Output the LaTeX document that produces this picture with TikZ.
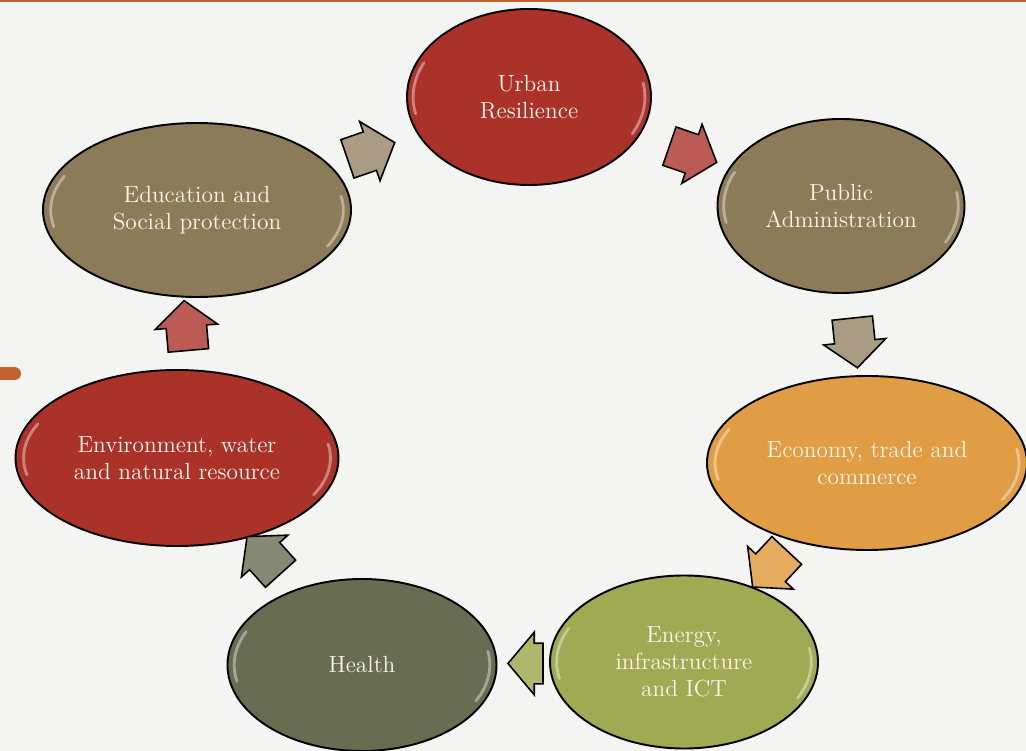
\documentclass[tikz,border=0pt]{standalone}
\usetikzlibrary{shapes.geometric, shapes.arrows, calc}

\definecolor{paper}{RGB}{244,244,243}
\definecolor{rust}{RGB}{196,98,45}
\definecolor{cream}{RGB}{250,246,236}
\definecolor{ruby}{RGB}{170,50,40}
\definecolor{umber}{RGB}{140,123,88}
\definecolor{amber}{RGB}{224,157,67}
\definecolor{leaf}{RGB}{160,170,82}
\definecolor{moss}{RGB}{104,108,80}

\begin{document}
\begin{tikzpicture}[
  topic/.style = {
    shape = ellipse,
    draw = black,
    line width = 1.1pt,
    inner sep = 0pt,
    outer sep = 0pt,
    align = center,
    text = cream,
    font = \fontsize{13.3}{15.5}\selectfont,
    gloss,
  },
  gloss/.style = {
    path picture = {
      \draw[white, opacity = 0.4, line width = 1.6pt, line cap = round]
        let \p1 = (path picture bounding box.north east),
            \p2 = (path picture bounding box.center),
            \n1 = {0.95*(\x1-\x2)}, \n2 = {0.92*(\y1-\y2)}
        in
        (\p2) ++(155:\n1 and \n2)
          arc[start angle = 155, end angle = 192, x radius = \n1, y radius = \n2]
        (\p2) ++(-27:\n1 and \n2)
          arc[start angle = -27, end angle = 10, x radius = \n1, y radius = \n2];
    }
  },
  flow/.style = {
    shape = single arrow,
    draw = black,
    line width = 0.9pt,
    minimum height = 1.0cm,
    single arrow head extend = 0.22cm,
    single arrow tip angle = 100,
    inner xsep = 0pt,
    inner ysep = 0.39cm,
    outer sep = 0pt,
  }
]
  \useasboundingbox (0, 0) rectangle (20.52, -15.02);
  \fill[paper] (0, 0) rectangle (20.52, -15.02);
  \fill[rust] (0, 0) rectangle (20.52, -0.05);
  \draw[rust, line width = 0.26cm, line cap = round] (-0.3, -7.48) -- (0.29, -7.48);

  \node[topic, fill = ruby, minimum width = 4.88cm, minimum height = 3.52cm]
    (urban) at (10.58, -1.94) {Urban\\Resilience};
  \node[topic, fill = umber, minimum width = 4.94cm, minimum height = 3.48cm]
    (admin) at (16.82, -4.12) {Public\\Administration};
  \node[topic, fill = amber, minimum width = 6.4cm, minimum height = 3.48cm]
    (economy) at (17.34, -9.26) {Economy, trade and\\commerce};
  \node[topic, fill = leaf, minimum width = 5.36cm, minimum height = 3.46cm]
    (energy) at (13.68, -13.24) {Energy,\\infrastructure\\and ICT};
  \node[topic, fill = moss, minimum width = 5.38cm, minimum height = 3.44cm]
    (health) at (7.24, -13.30) {Health};
  \node[topic, fill = ruby, minimum width = 6.46cm, minimum height = 3.52cm]
    (environment) at (3.54, -9.16) {Environment, water\\and natural resource};
  \node[topic, fill = umber, minimum width = 6.16cm, minimum height = 3.48cm]
    (education) at (3.94, -4.20) {Education and\\Social protection};

  % block arrows half way between the ellipses
  \node[flow, fill = umber!75!white, rotate = 19]
    (edu2urban) at ($(education)!0.5!(urban)$) {};
  \node[flow, fill = ruby!80!white, rotate = -19]
    (urban2admin) at ($(urban)!0.5!(admin)$) {};
  \node[flow, fill = umber!75!white, rotate = -84]
    (admin2economy) at ($(admin)!0.5!(economy)$) {};
  \node[flow, fill = amber!85!white, rotate = -133]
    (economy2energy) at ($(economy)!0.5!(energy)$) {};
  \node[flow, fill = leaf!85!white, rotate = 180, minimum height = 0.7cm]
    (energy2health) at ($(energy)!0.5!(health) + (0.22, 0)$) {};
  \node[flow, fill = moss!80!white, rotate = 132]
    (health2environment) at ($(health)!0.5!(environment)$) {};
  \node[flow, fill = ruby!80!white, rotate = 95]
    (environment2edu) at ($(environment)!0.5!(education)$) {};
\end{tikzpicture}
\end{document}
